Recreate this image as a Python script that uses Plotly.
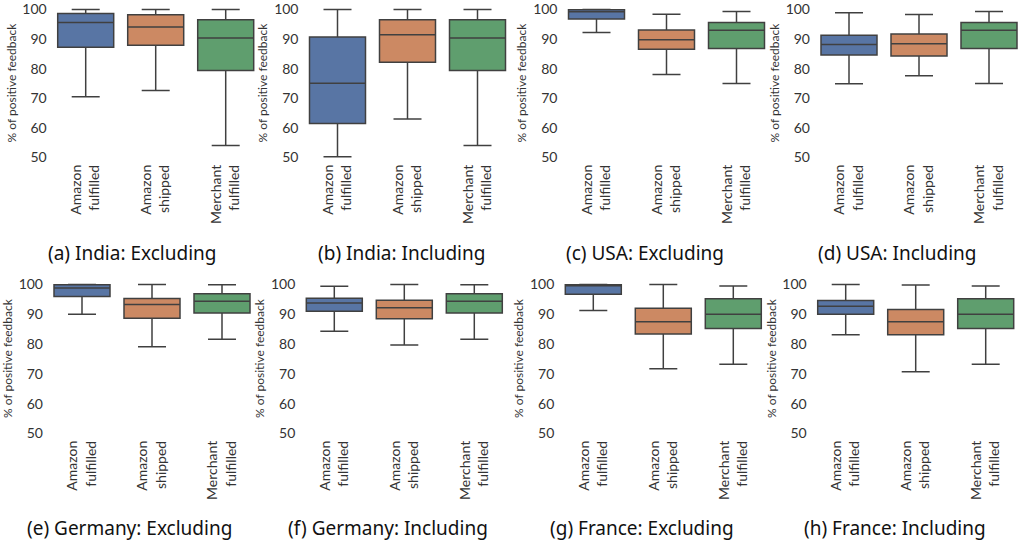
import plotly.graph_objects as go

# ---------------- data ----------------
categories = ["Amazon<br>fulfilled", "Amazon<br>shipped", "Merchant<br>fulfilled"]
panel_titles = [
    "(a) India: Excluding", "(b) India: Including",
    "(c) USA: Excluding", "(d) USA: Including",
    "(e) Germany: Excluding", "(f) Germany: Including",
    "(g) France: Excluding", "(h) France: Including",
]
# per panel: [Amazon fulfilled, Amazon shipped, Merchant fulfilled]
lower_whisker = [
    [70.5, 72.6, 54.1], [50.3, 63.0, 54.1], [92.2, 78.0, 75.0], [74.9, 77.6, 75.0],
    [90.0, 79.1, 81.6], [84.3, 79.7, 81.6], [91.3, 71.7, 73.2], [83.1, 70.7, 73.2],
]
q1 = [
    [87.2, 87.9, 79.4], [61.5, 82.2, 79.4], [96.8, 86.6, 86.8], [84.6, 84.3, 86.8],
    [96.0, 88.7, 90.4], [91.0, 88.5, 90.4], [96.7, 83.4, 85.2], [90.0, 83.1, 85.2],
]
median = [
    [95.6, 94.1, 90.4], [75.1, 91.5, 90.4], [99.2, 89.8, 93.0], [88.2, 88.4, 93.0],
    [98.8, 93.3, 94.4], [93.8, 92.2, 94.4], [99.7, 87.5, 90.0], [92.7, 87.5, 90.0],
]
q3 = [
    [98.6, 98.2, 96.5], [90.7, 96.5, 96.5], [99.9, 93.1, 95.6], [91.3, 91.7, 95.6],
    [99.9, 95.3, 96.9], [95.4, 94.7, 96.9], [99.9, 92.0, 95.2], [94.6, 91.6, 95.2],
]
upper_whisker = [
    [100.0, 100.0, 100.0], [100.0, 100.0, 100.0], [100.0, 98.4, 99.3], [98.9, 98.3, 99.3],
    [100.0, 100.0, 99.9], [99.4, 100.0, 99.9], [100.0, 100.0, 99.5], [100.0, 99.8, 99.5],
]
y_ticks = [50, 60, 70, 80, 90, 100]

# ---------------- style / layout ----------------
W, H = 1021, 545
colors = ["#5875A4", "#CC8963", "#5F9E6E"]
line_col = "#404040"
tick_font = dict(family="Lato, DejaVu Sans, sans-serif", size=14, color="#333333")
title_font = dict(family="Lato, DejaVu Sans, sans-serif", size=12, color="#333333")
cap_font = dict(family="Noto Sans, DejaVu Sans, sans-serif", size=19, color="#111111")

# x pixel domains (left, right)
x_px = [(50.7, 260.7), (302.5, 512.5), (561.5, 771.5), (814, 1021),
        (47, 257), (299.3, 509.3), (558.3, 768.3), (810.7, 1021)]
y_px_top = (159.0, 7.1)
y_px_bot = (435.0, 282.1)
cap_pos = [(132, 253), (401.5, 253), (645, 253), (896.5, 253),
           (129, 528), (388, 528), (642, 528), (894.5, 528)]

fig = go.Figure()
layout = dict(
    width=W, height=H,
    margin=dict(l=0, r=0, t=0, b=0),
    paper_bgcolor="white", plot_bgcolor="white",
    showlegend=False, boxmode="overlay",
    annotations=[],
)

for p in range(8):
    ax = "" if p == 0 else str(p + 1)
    xl, xr = x_px[p]
    px_per_unit = 70.0
    range_right = -0.5 + (xr - xl) / px_per_unit
    ypx = y_px_top if p < 4 else y_px_bot
    layout["xaxis" + ax] = dict(
        domain=[xl / W, xr / W], range=[-0.5, range_right],
        type="category", categoryorder="array", categoryarray=categories,
        showgrid=False, zeroline=False, showline=False, ticks="",
        tickangle=-90, tickfont=tick_font, automargin=False,
        anchor="y" + ax, ticklabelstandoff=2,
    )
    layout["yaxis" + ax] = dict(
        domain=[1 - ypx[0] / H, 1 - ypx[1] / H], range=[49.5, 100.8],
        tickvals=y_ticks, showgrid=False, zeroline=False, showline=False,
        ticks="", tickfont=tick_font, automargin=False, anchor="x" + ax,
        title=dict(text="% of positive feedback", font=title_font, standoff=3),
        ticklabelstandoff=3,
    )
    for c in range(3):
        fig.add_trace(go.Box(
            x=[categories[c]],
            q1=[q1[p][c]], median=[median[p][c]], q3=[q3[p][c]],
            lowerfence=[lower_whisker[p][c]], upperfence=[upper_whisker[p][c]],
            width=0.8,
            fillcolor=colors[c], line=dict(color=line_col, width=1.5),
            whiskerwidth=0.5, boxpoints=False, hoverinfo="skip",
            xaxis="x" + ax, yaxis="y" + ax, name=categories[c],
        ))
    cx, cy = cap_pos[p]
    layout["annotations"].append(dict(
        text=panel_titles[p], x=cx / W, y=1 - cy / H, xref="paper", yref="paper",
        showarrow=False, xanchor="center", yanchor="middle", font=cap_font,
    ))

fig.update_layout(**layout)
fig.write_html(
    "out.html",
    config={"displayModeBar": False, "staticPlot": True},
    post_script="document.body.style.margin='0px';document.body.style.overflow='hidden';",
)
